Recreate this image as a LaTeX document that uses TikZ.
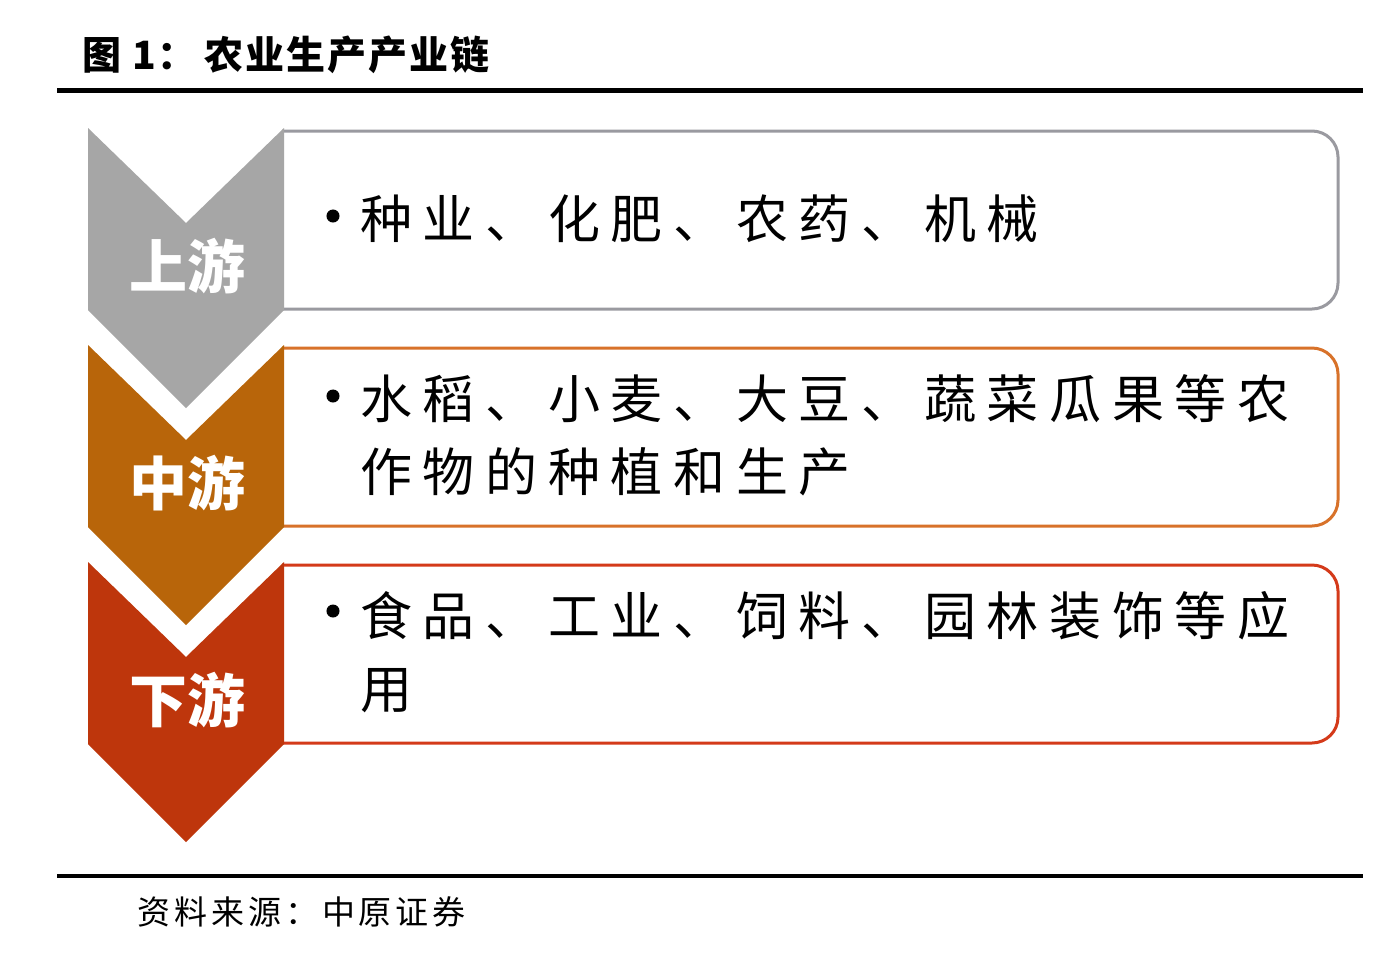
\documentclass[tikz,border=0pt]{standalone}
\usepackage{fontspec}
\newfontfamily\cjk{Noto Sans CJK SC}
\newfontfamily\cjktitle[LetterSpace=5]{Noto Sans CJK SC}
\newfontfamily\cjksp[LetterSpace=20.5]{Noto Sans CJK SC}
\newfontfamily\cjksrc[LetterSpace=12]{Noto Sans CJK SC}
\definecolor{cgray}{HTML}{A6A6A6}
\definecolor{corange}{HTML}{B8650A}
\definecolor{cred}{HTML}{BE360C}
\definecolor{bgray}{HTML}{9A9AA0}
\definecolor{borange}{HTML}{D8722A}
\definecolor{bred}{HTML}{D43A1A}
\tikzset{
  boxline/.style={line width=3pt, rounded corners=26pt},
  chevlabel/.style={text=white, font=\cjk\bfseries\fontsize{58}{60}\selectfont, inner sep=0pt},
  bodytext/.style={font=\cjksp\fontsize{52}{73}\selectfont, align=left, anchor=base west, inner sep=0pt},
  bulletdot/.style={circle, fill=black, draw=black, line width=1pt, inner sep=0pt, minimum size=12pt}
}
\newcommand\chevshape[2]{\fill[#1] (88,#2) -- (186,{#2+95}) -- (284,#2) -- (284,{#2+182}) -- (186,{#2+280}) -- (88,{#2+182}) -- cycle;}
\newcommand\boxshape[3]{\draw[boxline,#1] (282,#2) -- (1338,#2) -- (1338,#3) -- (282,#3);}
\begin{document}
\begin{tikzpicture}[x=1pt,y=-1pt]
\useasboundingbox (0,0) rectangle (1386,970);
\fill[white] (0,0) rectangle (1386,970);
% title
\node[anchor=west, inner sep=0pt, font=\cjktitle\bfseries\fontsize{39}{40}\selectfont] (title) at (82,55) {图 1：\hspace{8pt}农业生产产业链};
\draw[line width=5pt] (57,90) -- (1363,90);
% boxes
\boxshape{bgray}{131}{309}
\boxshape{borange}{348}{526}
\boxshape{bred}{565}{743}
% chevrons
\chevshape{cgray}{128}
\chevshape{corange}{345}
\chevshape{cred}{562}
\node[chevlabel] (up) at (187,266) {上游};
\node[chevlabel] (mid) at (187,483) {中游};
\node[chevlabel] (down) at (187,700) {下游};
% texts
\node[bulletdot] (b1) at (333,216) {};
\node[bodytext] (t1) at (360,238) {种业、化肥、农药、机械};
\node[bulletdot] (b2) at (333,396) {};
\node[bodytext] (t2) at (360,491) {水稻、小麦、大豆、蔬菜瓜果等农\\作物的种植和生产};
\node[bulletdot] (b3) at (333,611) {};
\node[bodytext] (t3) at (360,708) {食品、工业、饲料、园林装饰等应\\用};
% footer
\draw[line width=4pt] (57,876) -- (1363,876);
\node[anchor=west, inner sep=0pt, font=\cjksrc\fontsize{33}{36}\selectfont] (src) at (137,912) {资料来源：\hspace{4pt}中原证券};
\end{tikzpicture}
\end{document}
